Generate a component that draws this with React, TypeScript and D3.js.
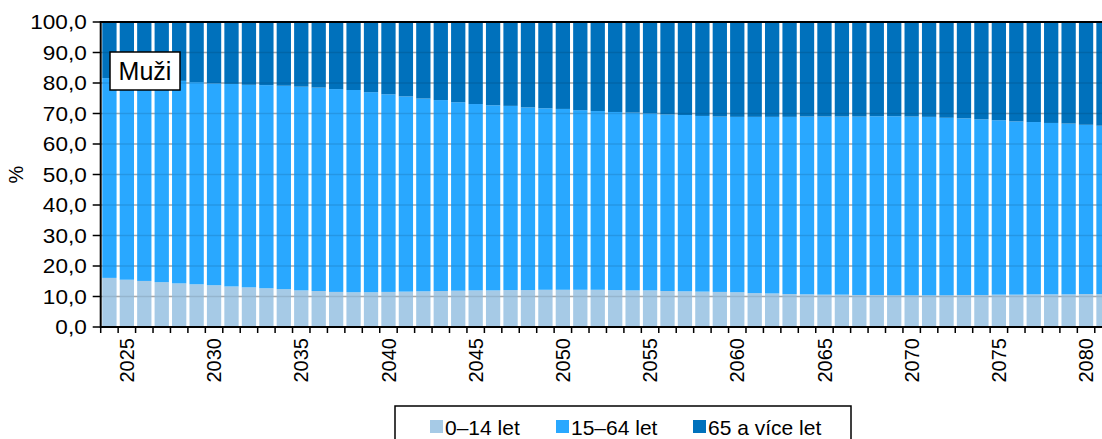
import React from "react";
import * as d3 from "d3";

const years = [
  2024, 2025, 2026, 2027, 2028, 2029, 2030, 2031, 2032, 2033, 2034, 2035, 2036, 2037, 2038, 2039,
  2040, 2041, 2042, 2043, 2044, 2045, 2046, 2047, 2048, 2049, 2050, 2051, 2052, 2053, 2054, 2055,
  2056, 2057, 2058, 2059, 2060, 2061, 2062, 2063, 2064, 2065, 2066, 2067, 2068, 2069, 2070, 2071,
  2072, 2073, 2074, 2075, 2076, 2077, 2078, 2079, 2080, 2081,
];

const age0_14 = [
  16.1, 15.5, 15.1, 14.7, 14.3, 14.0, 13.7, 13.3, 13.0, 12.7, 12.4, 12.0, 11.8, 11.5, 11.4, 11.4,
  11.5, 11.6, 11.7, 11.8, 11.9, 12.0, 12.0, 12.1, 12.1, 12.2, 12.2, 12.2, 12.2, 12.1, 12.0, 12.0,
  11.8, 11.7, 11.6, 11.5, 11.4, 11.1, 11.0, 10.8, 10.7, 10.6, 10.6, 10.5, 10.5, 10.4, 10.4, 10.4,
  10.4, 10.5, 10.5, 10.6, 10.6, 10.7, 10.7, 10.7, 10.8, 10.8,
];

const age15_64 = [
  65.5, 65.9, 66.1, 66.3, 66.4, 66.3, 66.2, 66.4, 66.4, 66.6, 66.7, 66.8, 66.7, 66.5, 66.3, 65.6,
  64.8, 64.0, 63.2, 62.6, 61.8, 61.1, 60.7, 60.4, 59.9, 59.5, 59.3, 58.9, 58.6, 58.4, 58.3, 58.1,
  57.9, 57.8, 57.6, 57.5, 57.5, 57.8, 57.9, 58.1, 58.3, 58.4, 58.4, 58.5, 58.6, 58.7, 58.6, 58.5,
  58.2, 57.9, 57.6, 57.2, 56.8, 56.5, 56.2, 56.0, 55.5, 55.2,
];

const age65plus = [
  18.4, 18.6, 18.8, 19.0, 19.3, 19.7, 20.1, 20.3, 20.6, 20.7, 20.9, 21.2, 21.5, 22.0, 22.3, 23.0,
  23.7, 24.4, 25.1, 25.6, 26.3, 26.9, 27.3, 27.5, 28.0, 28.3, 28.5, 28.9, 29.2, 29.5, 29.7, 29.9,
  30.3, 30.5, 30.8, 31.0, 31.1, 31.1, 31.1, 31.1, 31.0, 31.0, 31.0, 31.0, 30.9, 30.9, 31.0, 31.1,
  31.4, 31.6, 31.9, 32.2, 32.6, 32.8, 33.1, 33.3, 33.7, 34.0,
];

const seriesNames = ["0–14 let", "15–64 let", "65 a více let"];
const seriesColors = ["#a6cae6", "#29a8ff", "#0071bc"];
const yTicks = [0, 10, 20, 30, 40, 50, 60, 70, 80, 90, 100];
const xLabelYears = [2025, 2030, 2035, 2040, 2045, 2050, 2055, 2060, 2065, 2070, 2075, 2080];
const panelTitle = "Muži";

const W = 1102;
const H = 439;
const plotLeft = 100.7;
const plotTop = 22;
const plotBottom = 327;
const step = 17.44;
const plotRight = plotLeft + step * years.length;
const font = "'Liberation Sans', Arial, sans-serif";

export default function App() {
  const keys = ["a", "b", "c"];
  const rows = years.map((y, i) => ({ year: y, a: age0_14[i], b: age15_64[i], c: age65plus[i] }));
  const stacked = d3.stack<any>().keys(keys)(rows);

  const x = d3
    .scaleBand<number>()
    .domain(years)
    .range([plotLeft, plotRight])
    .paddingInner(0.18)
    .paddingOuter(0.09);
  const y = d3.scaleLinear().domain([0, 100]).range([plotBottom, plotTop]);
  const fmt = (v: number) => v.toFixed(1).replace(".", ",");
  const boundary = (yr: number) => (x(yr) as number) - x.step() * 0.09;

  return (
    <svg
      width={W}
      height={H}
      style={{ position: "absolute", left: 0, top: 0, background: "#fff" }}
      fontFamily={font}
    >
      {yTicks.map((t) => (
        <line key={"g" + t} x1={plotLeft} x2={W} y1={y(t)} y2={y(t)} stroke="#bdbdbd" strokeWidth={1.5} />
      ))}
      {stacked.map((s, si) => (
        <g key={si} fill={seriesColors[si]}>
          {s.map((d: any, i: number) => (
            <rect
              key={i}
              x={x(years[i]) as number}
              width={x.bandwidth()}
              y={y(d[1])}
              height={y(d[0]) - y(d[1])}
            />
          ))}
        </g>
      ))}
      {yTicks.map((t) => (
        <line key={"go" + t} x1={plotLeft} x2={W} y1={y(t)} y2={y(t)} stroke="#000" strokeOpacity={0.1} strokeWidth={1.5} />
      ))}
      <line x1={plotLeft} x2={W} y1={plotTop} y2={plotTop} stroke="#000" strokeWidth={2} />
      <line x1={plotLeft} x2={plotLeft} y1={plotTop - 1} y2={plotBottom + 1} stroke="#000" strokeWidth={2} />
      {yTicks.map((t) => (
        <g key={"y" + t}>
          <line x1={plotLeft - 8} x2={plotLeft} y1={y(t)} y2={y(t)} stroke="#000" strokeWidth={1.5} />
          <text
            transform={`translate(${plotLeft - 14},${y(t)}) scale(1.1,1)`}
            dy="0.36em"
            textAnchor="end"
            fontSize={20.5}
            fill="#000"
          >
            {fmt(t)}
          </text>
        </g>
      ))}
      <text
        transform={`translate(23,${(plotTop + plotBottom) / 2}) rotate(-90)`}
        textAnchor="middle"
        fontSize={20}
        fill="#000"
      >
        %
      </text>
      <line x1={plotLeft} x2={W} y1={plotBottom} y2={plotBottom} stroke="#000" strokeWidth={2} />
      {years.map((yr) => (
        <line
          key={"xt" + yr}
          x1={boundary(yr)}
          x2={boundary(yr)}
          y1={plotBottom}
          y2={plotBottom + 6}
          stroke="#000"
          strokeWidth={1.5}
        />
      ))}
      {xLabelYears.map((yr) => (
        <text
          key={"xl" + yr}
          transform={`translate(${(x(yr) as number) + x.bandwidth() / 2},${plotBottom + 11}) rotate(-90)`}
          textAnchor="end"
          dy="0.36em"
          fontSize={20}
          fill="#000"
        >
          {yr}
        </text>
      ))}
      <rect x={110} y={52} width={70} height={38} fill="#fff" stroke="#000" strokeWidth={1.5} />
      <text x={145} y={71} dy="0.36em" textAnchor="middle" fontSize={25} fill="#000">
        {panelTitle}
      </text>
      <rect x={395} y={406} width={456} height={40} fill="#fff" stroke="#000" strokeWidth={1.5} />
      {seriesNames.map((n, i) => {
        const lx = [430, 556, 693][i];
        return (
          <g key={n}>
            <rect x={lx} y={420} width={13} height={13} fill={seriesColors[i]} />
            <text x={lx + 15} y={427} dy="0.36em" fontSize={21} fill="#000">
              {n}
            </text>
          </g>
        );
      })}
    </svg>
  );
}
